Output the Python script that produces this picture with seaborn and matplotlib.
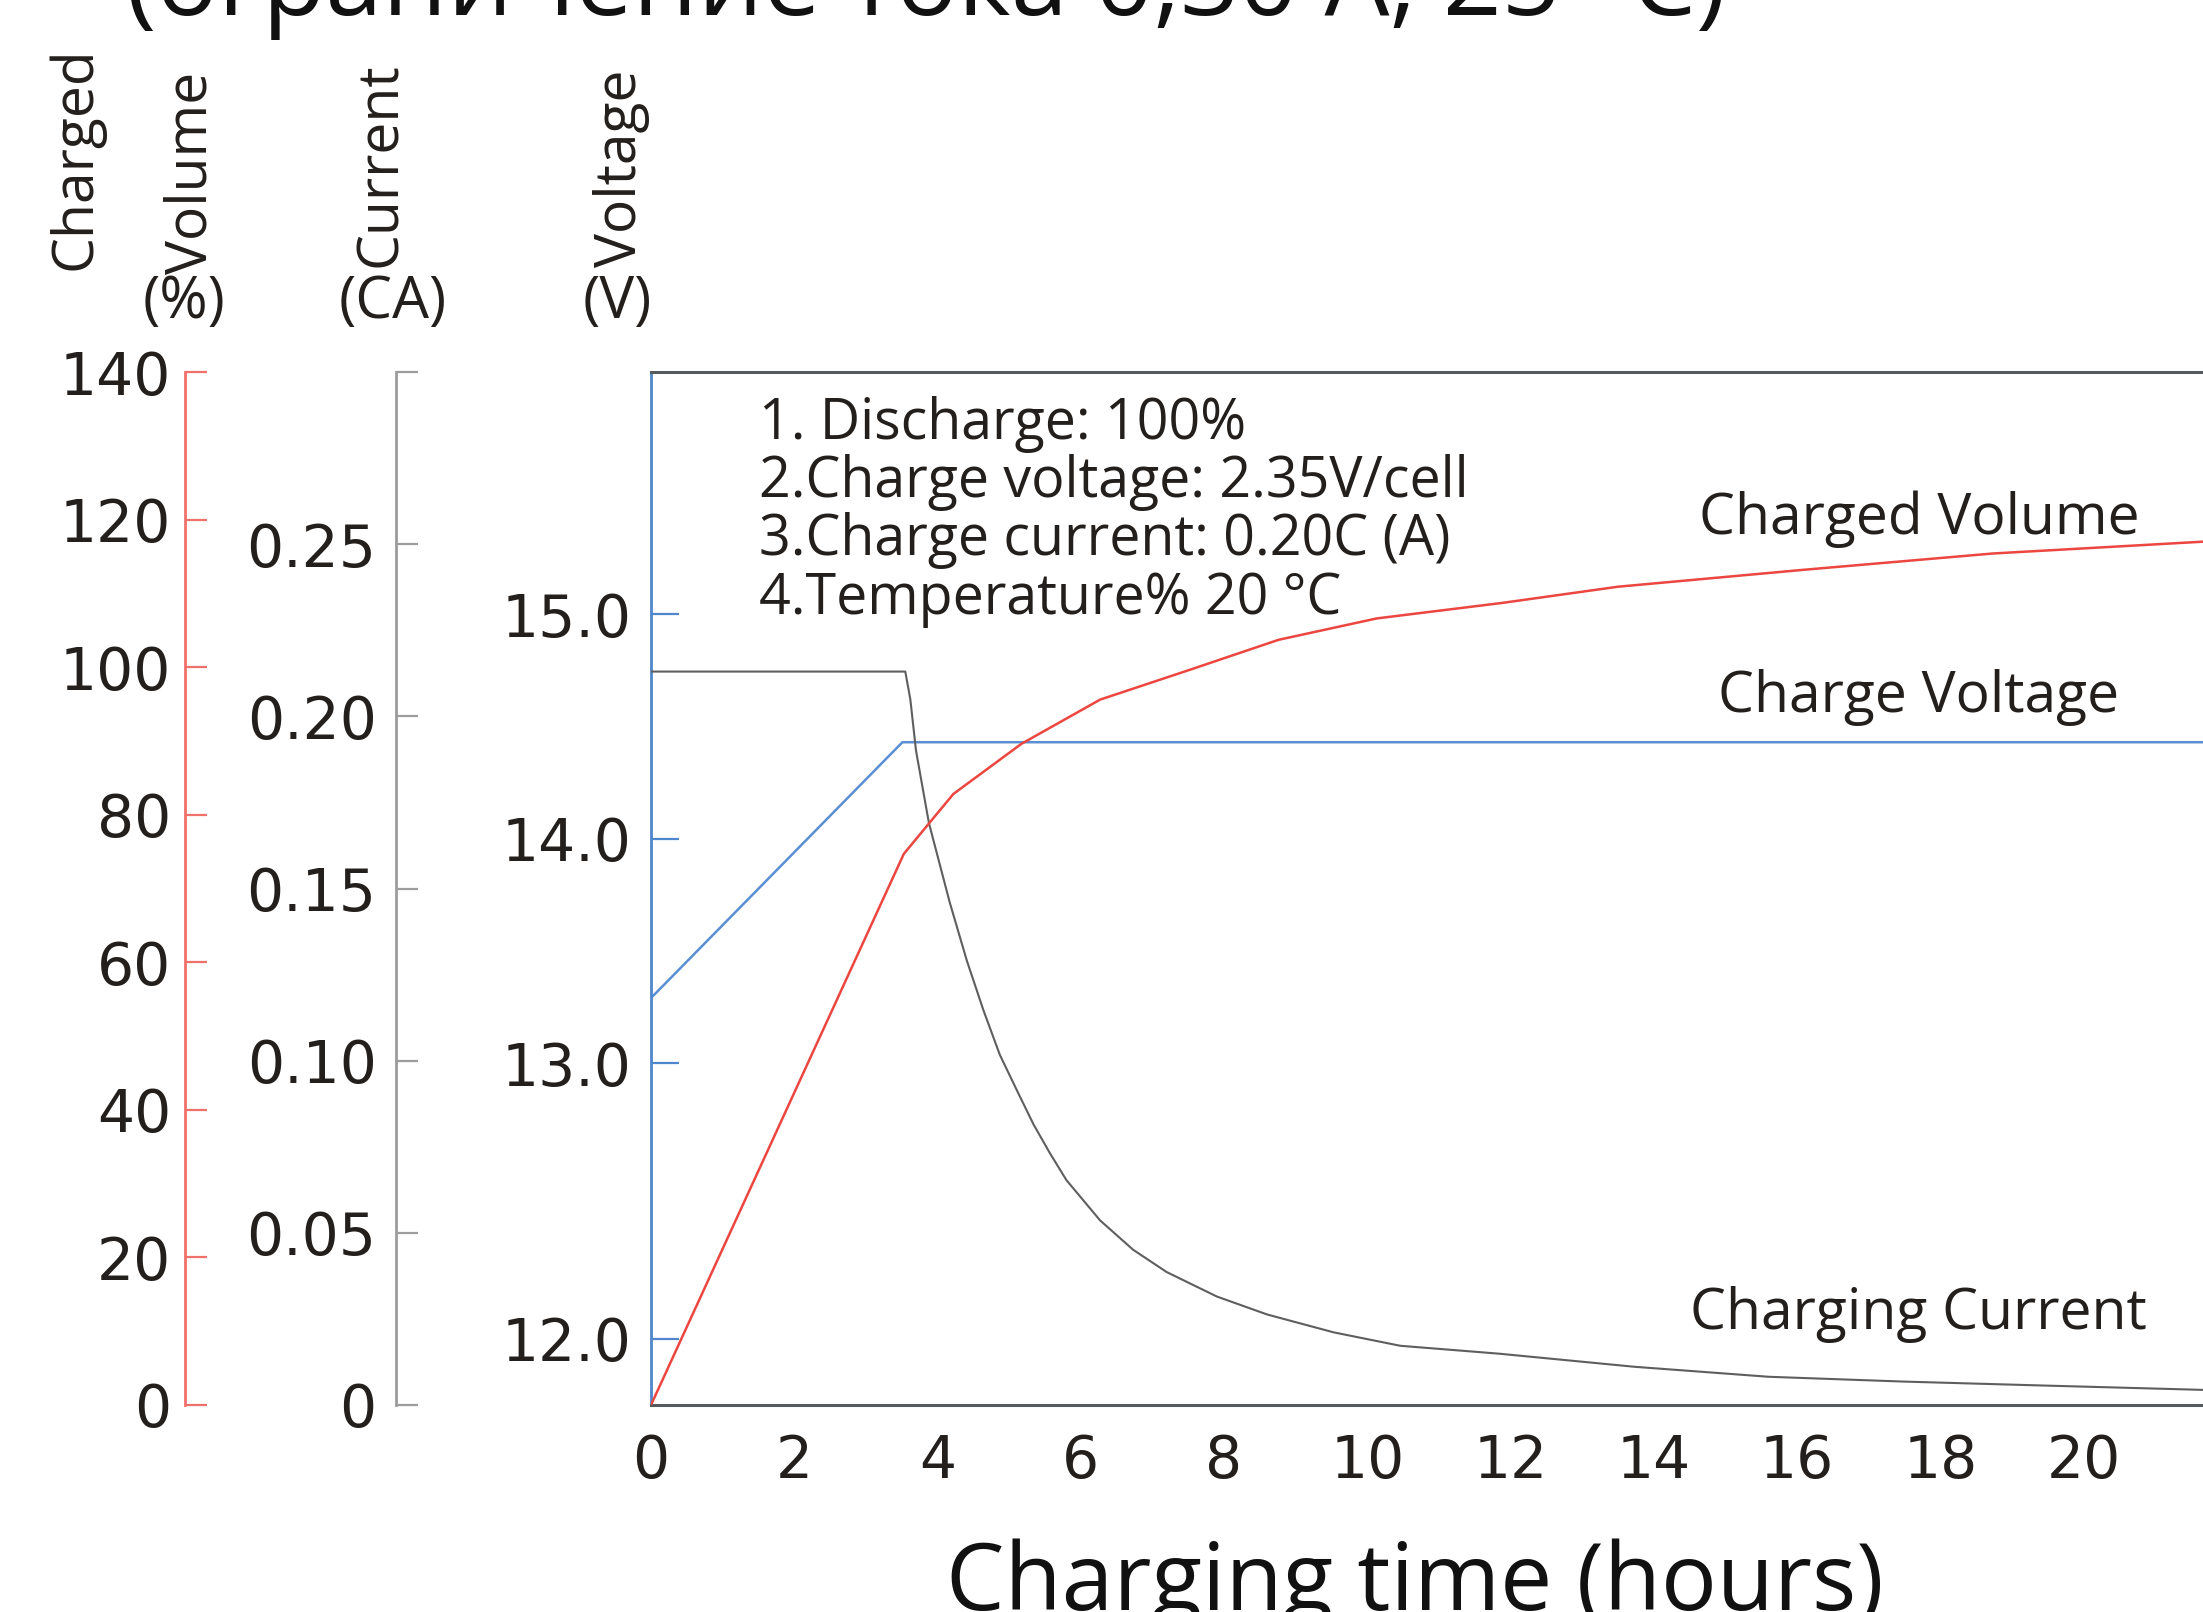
import numpy as np
import matplotlib
matplotlib.use("Agg")
import matplotlib.pyplot as plt
import seaborn as sns

# values
hours_volume = [0, 3.53, 4.22, 5.17, 6.27, 7.51, 8.76, 10.13, 11.88, 13.5, 16.1, 18.73, 21.66, 22.5]
charged_volume = [0, 74.7, 82.8, 89.6, 95.6, 99.6, 103.7, 106.6, 108.7, 110.9, 113.2, 115.4, 117.0, 117.4]

hours_voltage = [0, 3.51, 22.5]
charge_voltage = [13.29, 14.43, 14.43]

hours_current = [0, 3.55, 3.62, 3.70, 3.88, 4.17, 4.41, 4.64, 4.87, 5.11, 5.34, 5.57, 5.80,
                 6.27, 6.73, 7.20, 7.90, 8.60, 9.53, 10.46, 11.84, 13.73, 15.6, 17.49, 19.36,
                 21.65, 22.5]
charging_current = [0.213, 0.213, 0.205, 0.190, 0.169, 0.146, 0.129, 0.1147, 0.1017, 0.0913,
                    0.0815, 0.0731, 0.0653, 0.0536, 0.0451, 0.0386, 0.0315, 0.0263, 0.0211,
                    0.0172, 0.0149, 0.0111, 0.0082, 0.0068, 0.0057, 0.0044, 0.0040]

hour_ticks = list(range(0, 21, 2))
volume_ticks = list(range(0, 141, 20))
current_ticks = [0, 0.05, 0.10, 0.15, 0.20, 0.25, 0.30]
current_labels = ["0", "0.05", "0.10", "0.15", "0.20", "0.25", ""]
voltage_ticks = [12.0, 13.0, 14.0, 15.0]

notes = ["1. Discharge: 100%", "2.Charge voltage: 2.35V/cell",
         "3.Charge current: 0.20C (A)", "4.Temperature% 20 °C"]
title = "(ограничение тока 0,30 А, 25 °С)"

sns.set_theme(style="white")
plt.rcParams["font.family"] = ["Open Sans", "DejaVu Sans"]

RED_LINE, RED_AX = "#ec4640", "#f0706a"
BLUE_LINE, BLUE_AX = "#5a8fd3", "#4f86cc"
GRAY_LINE, GRAY_AX = "#5e5e5e", "#9c9c9c"
FRAME = "#555a5f"
INK = "#231f1c"
NUM_FONT = "DejaVu Sans"

fig = plt.figure(figsize=(22.03, 16.12), dpi=100)
W, H = 2203, 1612
# main axes runs off the right edge of the picture, like the reference crop
ax = fig.add_axes([651 / W, (H - 1405) / H, 24 * 71.63 / W, 1033 / H])

# the voltage axis in the original is not evenly spaced below 13 V
v_pts = [0.0, 11.76, 12.0, 13.0, 16.08, 30.0]
f_pts = [-3.14, 0.0, 0.0639, 0.331, 1.0, 4.02]


def v_fwd(v):
    return np.interp(v, v_pts, f_pts)


def v_inv(f):
    return np.interp(f, f_pts, v_pts)


def style_ticks(axis_obj):
    for lab in axis_obj.get_ticklabels():
        lab.set_fontfamily(NUM_FONT)


ax.set_yscale("function", functions=(v_fwd, v_inv))
sns.lineplot(x=hours_voltage, y=charge_voltage, ax=ax, color=BLUE_LINE, linewidth=1.8)
ax.set_ylim(11.76, 16.08)
ax.set_xlim(0, 24)
ax.set_yticks(voltage_ticks)
ax.set_yticklabels([f"{v:.1f}" for v in voltage_ticks])
ax.set_xticks(hour_ticks)
ax.minorticks_off()
ax.tick_params(axis="y", direction="in", length=20, width=1.6, color=BLUE_AX, pad=14,
               labelsize=42, labelcolor=INK)
ax.tick_params(axis="x", length=0, pad=20, labelsize=42, labelcolor=INK)
style_ticks(ax.xaxis)
style_ticks(ax.yaxis)
for s in ["top", "bottom"]:
    ax.spines[s].set_color(FRAME)
    ax.spines[s].set_linewidth(2.2)
ax.spines["left"].set_color(BLUE_AX)
ax.spines["left"].set_linewidth(2)
ax.spines["right"].set_visible(False)
ax.set_xlabel("")
ax.set_ylabel("")

# current axis
ax_cur = ax.twinx()
sns.lineplot(x=hours_current, y=charging_current, ax=ax_cur, color=GRAY_LINE, linewidth=1.5)
ax_cur.set_ylim(0, 0.30)
ax_cur.set_yticks(current_ticks)
ax_cur.set_yticklabels(current_labels)
ax_cur.yaxis.tick_left()
ax_cur.spines["left"].set_visible(True)
ax_cur.spines["left"].set_position(("outward", 255 * 0.72))
ax_cur.spines["left"].set_color(GRAY_AX)
ax_cur.spines["left"].set_linewidth(2)
for s in ["top", "bottom", "right"]:
    ax_cur.spines[s].set_visible(False)
ax_cur.tick_params(axis="y", direction="in", length=16, width=1.6, color=GRAY_AX, pad=14,
                   labelsize=42, labelcolor=INK)
style_ticks(ax_cur.yaxis)
ax_cur.set_ylabel("")

# charged volume axis
ax_vol = ax.twinx()
sns.lineplot(x=hours_volume, y=charged_volume, ax=ax_vol, color=RED_LINE, linewidth=1.8)
ax_vol.set_ylim(0, 140)
ax_vol.set_yticks(volume_ticks)
ax_vol.set_yticklabels([str(v) for v in volume_ticks])
ax_vol.yaxis.tick_left()
ax_vol.spines["left"].set_visible(True)
ax_vol.spines["left"].set_position(("outward", 466 * 0.72))
ax_vol.spines["left"].set_color(RED_AX)
ax_vol.spines["left"].set_linewidth(2)
for s in ["top", "bottom", "right"]:
    ax_vol.spines[s].set_visible(False)
ax_vol.tick_params(axis="y", direction="in", length=16, width=1.6, color=RED_AX, pad=10,
                   labelsize=42, labelcolor=INK)
style_ticks(ax_vol.yaxis)
ax_vol.set_ylabel("")

# series labels
ax_vol.text(17.7, 120, "Charged Volume", fontsize=41, color=INK, ha="center", va="center")
ax.text(17.7, 14.63, "Charge Voltage", fontsize=41, color=INK, ha="center", va="center")
ax_cur.text(17.7, 0.0264, "Charging Current", fontsize=41, color=INK, ha="center", va="center")

ax.text((759 - 651) / (24 * 71.63), 0.977, "\n".join(notes), transform=ax.transAxes,
        fontsize=40, color=INK, ha="left", va="top", linespacing=1.03)

# axis unit captions
word = dict(fontsize=41, color=INK, rotation=90, ha="center", va="bottom")
unit = dict(fontsize=42, color=INK, ha="center", va="center")
fig.text(76 / W, 1 - 270 / H, "Charged", **word)
fig.text(192 / W, 1 - 274 / H, "Volume", **word)
fig.text(184 / W, 1 - 303 / H, "(%)", **unit)
fig.text(382 / W, 1 - 267 / H, "Current", **word)
fig.text(393 / W, 1 - 303 / H, "(CA)", **unit)
fig.text(621 / W, 1 - 267 / H, "Voltage", **word)
fig.text(617 / W, 1 - 303 / H, "(V)", **unit)

# title and x caption are cut by the picture edges in the reference
fig.text(926 / W, 1 - 15 / H, title, fontsize=74, color="#111111", ha="center", va="baseline")
fig.text(1415 / W, 2 / H, "Charging time (hours)", fontsize=67, color="#111111",
         ha="center", va="baseline")

fig.savefig("out.png", dpi=100, facecolor="white")
